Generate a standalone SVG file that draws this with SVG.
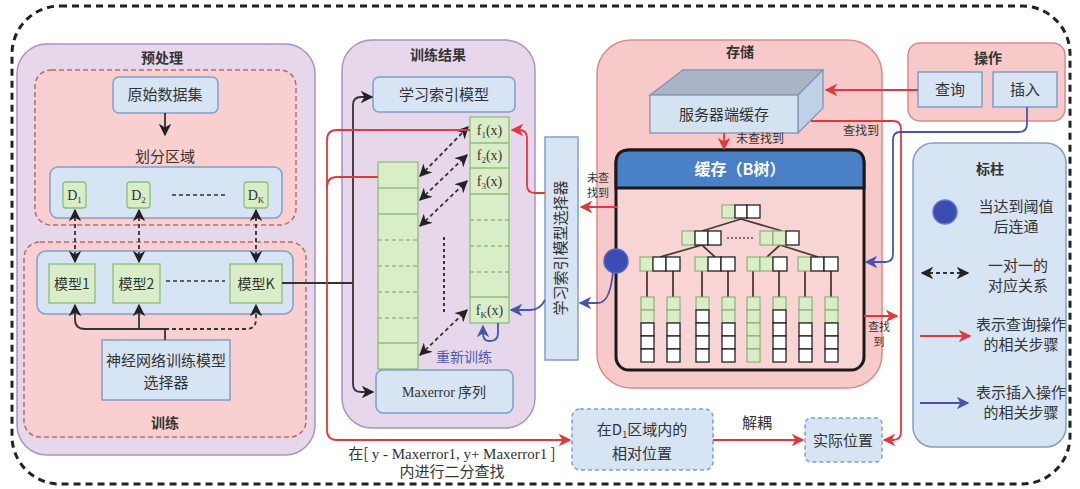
<svg xmlns="http://www.w3.org/2000/svg" width="1080" height="489" viewBox="0 0 1080 489">
<defs>
<style>
.cn{font-family:"Noto Sans CJK SC","Liberation Sans",sans-serif;fill:#333;}
.tt{font-family:"Noto Sans CJK SC","Liberation Sans",sans-serif;font-weight:bold;fill:#333;font-size:14px;}
.lt{font-family:"Liberation Serif","Noto Sans CJK SC",serif;fill:#333;}
.purple{fill:#e7d7eb;stroke:#a893c2;stroke-width:1.5;}
.pink{fill:#f7c9c9;stroke:#d98a8a;stroke-width:1.5;}
.pinkd{fill:#f9cfcf;stroke:#b86b6b;stroke-width:1.5;stroke-dasharray:5 3;}
.blue{fill:#d6e4f3;stroke:#7f9fcc;stroke-width:1.5;}
.blued{fill:#d6e4f3;stroke:#7f9fcc;stroke-width:1.5;stroke-dasharray:4 3;}
.green{fill:#d9edc9;stroke:#8cbf74;stroke-width:1.3;}
.g{fill:#d9edc9;stroke:#7aa866;stroke-width:1;}
.w{fill:#ffffff;stroke:#222;stroke-width:1.3;}
.k{fill:none;stroke:#333;stroke-width:1.8;}
.kd{fill:none;stroke:#333;stroke-width:1.8;stroke-dasharray:4 3;}
.r{fill:none;stroke:#e0393c;stroke-width:1.8;}
.b{fill:none;stroke:#4556b0;stroke-width:1.8;}
.tl{fill:none;stroke:#4a3a36;stroke-width:1.8;}
</style>
<marker id="ak" viewBox="0 0 10 10" refX="9" refY="5" markerWidth="7" markerHeight="7" orient="auto-start-reverse"><path d="M0,0 L10,5 L0,10 L3,5 z" fill="#222"/></marker>
<marker id="ar" viewBox="0 0 10 10" refX="9" refY="5" markerWidth="7" markerHeight="7" orient="auto-start-reverse"><path d="M0,0 L10,5 L0,10 L3,5 z" fill="#e0393c"/></marker>
<marker id="ab" viewBox="0 0 10 10" refX="9" refY="5" markerWidth="7" markerHeight="7" orient="auto-start-reverse"><path d="M0,0 L10,5 L0,10 L3,5 z" fill="#4556b0"/></marker>
</defs>
<rect x="0" y="0" width="1080" height="489" fill="#ffffff"/>
<rect x="12" y="6" width="1058" height="478" rx="48" fill="none" stroke="#222" stroke-width="3" stroke-dasharray="7 5"/>

<!-- 预处理 panel -->
<g id="preprocess">
<rect class="purple" x="17" y="44" width="298" height="411" rx="30"/>
<text class="tt" x="162" y="63" text-anchor="middle">预处理</text>
<rect class="pinkd" x="35" y="70" width="261" height="155" rx="16"/>
</g>
<g id="raw-data">
<rect class="blue" x="113" y="77" width="105" height="36" rx="6"/>
<text class="cn" x="165" y="100" font-size="15" text-anchor="middle">原始数据集</text>
</g>
<text class="cn" x="165" y="162" font-size="15" text-anchor="middle">划分区域</text>
<g id="regions">
<rect class="blue" x="50" y="167" width="232" height="51" rx="8"/>
<rect class="green" x="63" y="182" width="23" height="26" rx="3"/>
<text class="lt" x="74.5" y="200" font-size="14" text-anchor="middle">D<tspan font-size="9" dy="3">1</tspan></text>
<rect class="green" x="127" y="182" width="23" height="26" rx="3"/>
<text class="lt" x="138.5" y="200" font-size="14" text-anchor="middle">D<tspan font-size="9" dy="3">2</tspan></text>
<rect class="green" x="244" y="182" width="24" height="26" rx="3"/>
<text class="lt" x="256" y="200" font-size="14" text-anchor="middle">D<tspan font-size="9" dy="3">K</tspan></text>
<line x1="172" y1="195" x2="225" y2="195" stroke="#333" stroke-width="1.5" stroke-dasharray="4 3"/>
</g>
<g id="train">
<rect class="pinkd" x="24" y="242" width="282" height="195" rx="16"/>
<text class="tt" x="165" y="428" text-anchor="middle">训练</text>
<rect class="blue" x="37" y="251" width="256" height="63" rx="9"/>
</g>
<g id="model1"><rect class="green" x="49" y="264" width="46" height="39"/><text class="cn" x="72" y="289" font-size="14" text-anchor="middle">模型1</text></g>
<g id="model2"><rect class="green" x="113" y="264" width="47" height="39"/><text class="cn" x="136.5" y="289" font-size="14" text-anchor="middle">模型2</text></g>
<g id="modelK"><rect class="green" x="230" y="264" width="52" height="39"/><text class="cn" x="256" y="289" font-size="14" text-anchor="middle">模型K</text></g>
<line x1="166" y1="281" x2="225" y2="281" stroke="#333" stroke-width="1.5" stroke-dasharray="4 3"/>
<g id="nn-selector">
<rect class="blue" x="102" y="340" width="128" height="60"/>
<text class="cn" x="166" y="366" font-size="15" text-anchor="middle">神经网络训练模型</text>
<text class="cn" x="166" y="388" font-size="15" text-anchor="middle">选择器</text>
</g>

<!-- 训练结果 panel -->
<g id="train-result">
<rect class="purple" x="342" y="40" width="193" height="388" rx="30"/>
<text class="tt" x="438" y="60" text-anchor="middle">训练结果</text>
</g>
<g id="lim">
<rect class="blue" x="373" y="77" width="142" height="35" rx="6"/>
<text class="cn" x="444" y="100" font-size="15" text-anchor="middle">学习索引模型</text>
</g>
<g id="maxerror-col">
<rect class="green" x="378" y="162" width="40" height="207"/>
<line x1="378" y1="188" x2="418" y2="188" stroke="#8cbf74" stroke-width="1.3"/>
<line x1="378" y1="214" x2="418" y2="214" stroke="#8cbf74" stroke-width="1.3"/>
<g stroke="#8cbf74" stroke-width="1.3" stroke-dasharray="4 3">
<line x1="378" y1="240" x2="418" y2="240"/><line x1="378" y1="266" x2="418" y2="266"/><line x1="378" y1="292" x2="418" y2="292"/><line x1="378" y1="318" x2="418" y2="318"/>
</g>
<line x1="378" y1="343" x2="418" y2="343" stroke="#8cbf74" stroke-width="1.3"/>
</g>
<g id="f-col">
<rect class="green" x="470" y="117" width="39" height="206"/>
<line x1="470" y1="143" x2="509" y2="143" stroke="#8cbf74" stroke-width="1.3"/>
<line x1="470" y1="168" x2="509" y2="168" stroke="#8cbf74" stroke-width="1.3"/>
<line x1="470" y1="194" x2="509" y2="194" stroke="#8cbf74" stroke-width="1.3"/>
<g stroke="#8cbf74" stroke-width="1.3" stroke-dasharray="4 3">
<line x1="470" y1="220" x2="509" y2="220"/><line x1="470" y1="246" x2="509" y2="246"/><line x1="470" y1="272" x2="509" y2="272"/>
</g>
<line x1="470" y1="297" x2="509" y2="297" stroke="#8cbf74" stroke-width="1.3"/>
<text class="lt" x="489.5" y="135" font-size="14" text-anchor="middle">f<tspan font-size="9" dy="3">1</tspan><tspan dy="-3">(x)</tspan></text>
<text class="lt" x="489.5" y="160" font-size="14" text-anchor="middle">f<tspan font-size="9" dy="3">2</tspan><tspan dy="-3">(x)</tspan></text>
<text class="lt" x="489.5" y="186" font-size="14" text-anchor="middle">f<tspan font-size="9" dy="3">3</tspan><tspan dy="-3">(x)</tspan></text>
<text class="lt" x="489.5" y="315" font-size="14" text-anchor="middle">f<tspan font-size="9" dy="3">K</tspan><tspan dy="-3">(x)</tspan></text>
</g>
<line x1="444" y1="237" x2="444" y2="313" stroke="#333" stroke-width="2" stroke-dasharray="3 3"/>
<g id="maxerror">
<rect class="blue" x="376" y="370" width="137" height="43" rx="7"/>
<text class="cn" x="444" y="397" font-size="14" text-anchor="middle"><tspan font-family="Liberation Serif">Maxerror</tspan> 序列</text>
</g>
<text class="cn" x="464" y="362" font-size="14" text-anchor="middle" style="fill:#4a5ab3">重新训练</text>

<!-- 学习索引模型选择器 -->
<g id="lim-selector">
<rect class="blue" x="545" y="137" width="33" height="223"/>
<text class="cn" font-size="15" text-anchor="middle" transform="translate(566,248) rotate(-90)">学习索引模型选择器</text>
</g>

<!-- 存储 panel -->
<g id="storage">
<rect class="pink" x="597" y="40" width="285" height="348" rx="34"/>
<text class="tt" x="740" y="57" text-anchor="middle">存储</text>
</g>
<g id="server-cache">
<polygon points="650,95 683,70 823,70 798,95" fill="#a9b4c4" stroke="#7f96b8" stroke-width="1.3"/>
<polygon points="798,95 823,70 823,108 798,133" fill="#bfd1e6" stroke="#7f96b8" stroke-width="1.3"/>
<rect x="650" y="95" width="148" height="38" fill="#d4e3f2" stroke="#7f96b8" stroke-width="1.3"/>
<text class="cn" x="724" y="120" font-size="15" text-anchor="middle">服务器端缓存</text>
</g>
<g id="btree">
<rect x="616" y="150" width="248" height="220" rx="13" fill="#f9d4d4" stroke="#1a1a1a" stroke-width="3"/>
<path d="M616,188 V163 Q616,150 629,150 H851 Q864,150 864,163 V188 Z" fill="#4a80c6" stroke="#1a1a1a" stroke-width="3"/>
<text x="740" y="175" font-family="Noto Sans CJK SC,Liberation Sans,sans-serif" font-weight="bold" font-size="16" fill="#ffffff" text-anchor="middle">缓存（B树）</text>
<g class="tl">
<path d="M741,219 L702,231 M741,219 L782,231"/>
<path d="M702,245 L660,257 M702,245 L715,257 M780,245 L767,257 M780,245 L818,257"/>
<path d="M647,271 V297 M673,271 V297 M702,271 V297 M728,271 V297 M753,271 V297 M779,271 V297 M805,271 V297 M831,271 V297"/>
</g>
<rect class="g" x="722" y="205" width="13" height="13"/><rect class="w" x="735" y="205" width="12" height="13"/><rect class="w" x="747" y="205" width="13" height="13"/>
<rect class="g" x="682" y="231" width="13" height="14"/><rect class="w" x="695" y="231" width="13" height="14"/><rect class="w" x="708" y="231" width="13" height="14"/>
<line x1="727" y1="238" x2="753" y2="238" stroke="#555" stroke-width="1.5" stroke-dasharray="2 2"/>
<rect class="g" x="760" y="231" width="13" height="14"/><rect class="g" x="773" y="231" width="13" height="14"/><rect class="w" x="786" y="231" width="13" height="14"/>
<rect class="g" x="640" y="257" width="13" height="14"/><rect class="w" x="653" y="257" width="13" height="14"/><rect class="w" x="666" y="257" width="14" height="14"/>
<rect class="g" x="695" y="257" width="13" height="14"/><rect class="w" x="708" y="257" width="13" height="14"/><rect class="w" x="721" y="257" width="14" height="14"/>
<rect class="g" x="747" y="257" width="13" height="14"/><rect class="g" x="760" y="257" width="13" height="14"/><rect class="w" x="773" y="257" width="14" height="14"/>
<rect class="g" x="798" y="257" width="13" height="14"/><rect class="w" x="811" y="257" width="13" height="14"/><rect class="w" x="824" y="257" width="14" height="14"/>
<g>
<rect class="g" x="641" y="297" width="13" height="13"/><rect class="g" x="641" y="310" width="13" height="13"/><rect class="w" x="641" y="323" width="13" height="13"/><rect class="w" x="641" y="336" width="13" height="13"/><rect class="w" x="641" y="349" width="13" height="13"/>
<rect class="g" x="667" y="297" width="13" height="13"/><rect class="g" x="667" y="310" width="13" height="13"/><rect class="w" x="667" y="323" width="13" height="13"/><rect class="w" x="667" y="336" width="13" height="13"/><rect class="w" x="667" y="349" width="13" height="13"/>
<rect class="g" x="696" y="297" width="13" height="13"/><rect class="w" x="696" y="310" width="13" height="13"/><rect class="w" x="696" y="323" width="13" height="13"/><rect class="w" x="696" y="336" width="13" height="13"/><rect class="w" x="696" y="349" width="13" height="13"/>
<rect class="g" x="722" y="297" width="13" height="13"/><rect class="g" x="722" y="310" width="13" height="13"/><rect class="w" x="722" y="323" width="13" height="13"/><rect class="w" x="722" y="336" width="13" height="13"/><rect class="w" x="722" y="349" width="13" height="13"/>
<rect class="g" x="747" y="297" width="13" height="13"/><rect class="g" x="747" y="310" width="13" height="13"/><rect class="g" x="747" y="323" width="13" height="13"/><rect class="g" x="747" y="336" width="13" height="13"/><rect class="g" x="747" y="349" width="13" height="13"/>
<rect class="g" x="773" y="297" width="13" height="13"/><rect class="w" x="773" y="310" width="13" height="13"/><rect class="w" x="773" y="323" width="13" height="13"/><rect class="w" x="773" y="336" width="13" height="13"/><rect class="w" x="773" y="349" width="13" height="13"/>
<rect class="g" x="799" y="297" width="13" height="13"/><rect class="g" x="799" y="310" width="13" height="13"/><rect class="w" x="799" y="323" width="13" height="13"/><rect class="w" x="799" y="336" width="13" height="13"/><rect class="w" x="799" y="349" width="13" height="13"/>
<rect class="g" x="825" y="297" width="13" height="13"/><rect class="g" x="825" y="310" width="13" height="13"/><rect class="w" x="825" y="323" width="13" height="13"/><rect class="w" x="825" y="336" width="13" height="13"/><rect class="w" x="825" y="349" width="13" height="13"/>
</g>
</g>
<g id="threshold-node"><circle cx="616" cy="261" r="12" fill="#3a4db2" stroke="#5566c0" stroke-width="1.5"/></g>

<!-- 操作 panel -->
<g id="operation">
<rect class="pink" x="908" y="43" width="157" height="78" rx="12"/>
<text class="tt" x="988" y="63" text-anchor="middle">操作</text>
</g>
<g id="query"><rect class="blue" x="918" y="72" width="64" height="35"/><text class="cn" x="950" y="95" font-size="15" text-anchor="middle">查询</text></g>
<g id="insert"><rect class="blue" x="993" y="72" width="64" height="35"/><text class="cn" x="1025" y="95" font-size="15" text-anchor="middle">插入</text></g>

<!-- bottom boxes -->
<g id="relative-pos">
<rect class="blued" x="572" y="409" width="141" height="61" rx="8"/>
<text class="cn" x="642" y="435" font-size="15" text-anchor="middle">在D<tspan font-size="9" dy="3">1</tspan><tspan dy="-3">区域内的</tspan></text>
<text class="cn" x="642" y="459" font-size="15" text-anchor="middle">相对位置</text>
</g>
<g id="actual-pos">
<rect class="blued" x="805" y="418" width="77" height="44" rx="6"/>
<text class="cn" x="843" y="446" font-size="15" text-anchor="middle">实际位置</text>
</g>

<!-- legend -->
<g id="legend">
<rect class="blue" x="913" y="143" width="153" height="304" rx="20"/>
<text class="tt" x="990" y="174" text-anchor="middle">标柱</text>
<circle cx="945" cy="212" r="12" fill="#3a4db2" stroke="#6a78c8" stroke-width="1.5"/>
<text class="cn" x="1016" y="212" font-size="15" text-anchor="middle">当达到阈值</text>
<text class="cn" x="1016" y="232" font-size="15" text-anchor="middle">后连通</text>
<line x1="922" y1="273" x2="968" y2="273" class="kd" marker-start="url(#ak)" marker-end="url(#ak)"/>
<text class="cn" x="1018" y="271" font-size="15" text-anchor="middle">一对一的</text>
<text class="cn" x="1018" y="291" font-size="15" text-anchor="middle">对应关系</text>
<line x1="920" y1="336" x2="970" y2="336" class="r" marker-end="url(#ar)"/>
<text class="cn" x="1021" y="330" font-size="15" text-anchor="middle">表示查询操作</text>
<text class="cn" x="1021" y="350" font-size="15" text-anchor="middle">的相关步骤</text>
<line x1="920" y1="403" x2="968" y2="403" class="b" marker-end="url(#ab)"/>
<text class="cn" x="1021" y="398" font-size="15" text-anchor="middle">表示插入操作</text>
<text class="cn" x="1021" y="418" font-size="15" text-anchor="middle">的相关步骤</text>
</g>

<!-- connector labels -->
<text class="cn" x="760" y="143" font-size="12" text-anchor="middle">未查找到</text>
<text class="cn" x="861" y="135" font-size="12" text-anchor="middle">查找到</text>
<text class="cn" x="598" y="182" font-size="11" text-anchor="middle">未查</text>
<text class="cn" x="598" y="197" font-size="11" text-anchor="middle">找到</text>
<text class="cn" x="879" y="331" font-size="11" text-anchor="middle">查找</text>
<text class="cn" x="879" y="346" font-size="11" text-anchor="middle">到</text>
<text class="cn" x="757" y="428" font-size="15" text-anchor="middle">解耦</text>
<text class="cn" x="452" y="459" font-size="15" text-anchor="middle">在[ <tspan font-family="Liberation Serif">y - Maxerror1, y+ Maxerror1</tspan> ]</text>
<text class="cn" x="452" y="477" font-size="15" text-anchor="middle">内进行二分查找</text>

<!-- connectors -->
<g id="connectors">
<line x1="165" y1="113" x2="165" y2="135" class="k" marker-end="url(#ak)"/>
<line x1="75" y1="210" x2="75" y2="262" class="kd" marker-start="url(#ak)" marker-end="url(#ak)"/>
<line x1="139" y1="210" x2="139" y2="262" class="kd" marker-start="url(#ak)" marker-end="url(#ak)"/>
<line x1="256" y1="210" x2="256" y2="262" class="kd" marker-start="url(#ak)" marker-end="url(#ak)"/>
<path d="M165,340 V329 H85 Q75,329 75,319 V305" class="k" marker-end="url(#ak)"/>
<path d="M139,329 V305" class="k" marker-end="url(#ak)"/>
<path d="M165,329 H246 Q256,329 256,319 V305" class="kd" marker-end="url(#ak)"/>
<path d="M282,283 H353" class="k"/>
<path d="M370,97 H361 Q353,97 353,105 V384 Q353,392 361,392 H373" class="k" marker-end="url(#ak)"/>
<path d="M369,97 H372" class="k" marker-end="url(#ak)"/>
<line x1="420" y1="176" x2="468" y2="127" class="kd" marker-start="url(#ak)" marker-end="url(#ak)"/>
<line x1="420" y1="200" x2="467" y2="155" class="kd" marker-start="url(#ak)" marker-end="url(#ak)"/>
<line x1="420" y1="226" x2="467" y2="181" class="kd" marker-start="url(#ak)" marker-end="url(#ak)"/>
<line x1="420" y1="355" x2="467" y2="310" class="kd" marker-start="url(#ak)" marker-end="url(#ak)"/>
<path d="M498,323 V333 Q498,341 490,341 H489 Q483,341 483,333 V326" class="b" marker-end="url(#ab)"/>
<path d="M470,130 H337 Q327,130 327,140 V430 Q327,440 337,440 H570" class="r" marker-end="url(#ar)"/>
<path d="M378,177 H337 Q327,177 327,187" class="r"/>
<path d="M545,193 H535 Q527,193 527,185 V138 Q527,130 519,130 H512" class="r" marker-end="url(#ar)"/>
<path d="M617,207 H581" class="r" marker-end="url(#ar)"/>
<path d="M918,90 H826" class="r" marker-end="url(#ar)"/>
<path d="M724,133 V149" class="r" marker-end="url(#ar)"/>
<path d="M811,121 H893 Q901,121 901,129 V432 Q901,440 893,440 H884" class="r" marker-end="url(#ar)"/>
<path d="M864,316 H897" class="r" marker-end="url(#ar)"/>
<path d="M713,440 H803" class="r" marker-end="url(#ar)"/>
<path d="M1027,107 V124 Q1027,132 1019,132 H900 Q893,132 893,140 V254 Q893,262 885,262 H866" class="b" marker-end="url(#ab)"/>
<path d="M613,272 Q610,303 598,303 H580" class="b" marker-end="url(#ab)"/>
<path d="M545,300 Q540,310 530,310 H511" class="b" marker-end="url(#ab)"/>
</g>
</svg>
